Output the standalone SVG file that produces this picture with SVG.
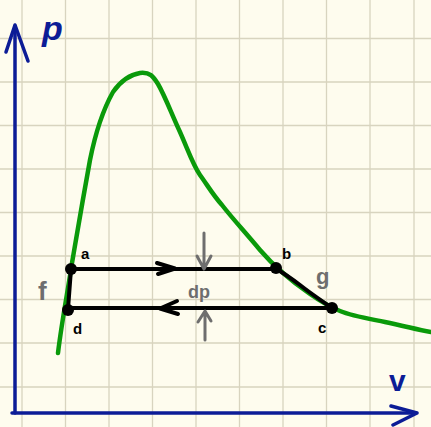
<svg xmlns="http://www.w3.org/2000/svg" width="431" height="427" viewBox="0 0 431 427">
<style>
.grid{stroke:#d8d4bf;stroke-width:1.3}
.axis{stroke:#0c1c96;stroke-width:3.5;fill:none;stroke-linecap:round;stroke-linejoin:round}
.curve{stroke:#0a9a0a;stroke-width:4.5;fill:none;stroke-linecap:round;stroke-linejoin:round}
.cyc{stroke:#000;stroke-width:4;fill:none;stroke-linecap:round;stroke-linejoin:round}
.gr{stroke:#6e6e6e;stroke-width:3;fill:none;stroke-linecap:round;stroke-linejoin:round}
.lbl{font-family:"Liberation Sans",Arial,sans-serif;font-weight:bold;fill:#000;font-size:15px}
.glbl{font-family:"Liberation Sans",Arial,sans-serif;font-weight:bold;fill:#6e6e6e}
.blbl{font-family:"Liberation Sans",Arial,sans-serif;font-weight:bold;fill:#0c1c96}
</style>
<rect width="431" height="427" fill="#fefcee"/>
<g id="grid">
<path class="grid" d="M22 0V427M65.5 0V427M109 0V427M152.5 0V427M196 0V427M239.5 0V427M283 0V427M326.5 0V427M370 0V427M414 0V427"/>
<path class="grid" d="M0 38.5H431M0 82H431M0 125.5H431M0 169H431M0 212.5H431M0 256H431M0 299.5H431M0 343H431M0 387H431"/>
</g>
<g id="axes">
<path class="axis" d="M15 413V26"/>
<path class="axis" d="M6 52L15 25L28 61"/>
<path class="axis" d="M12 413H416"/>
<path class="axis" d="M391 406L417 413L393 425"/>
<text class="blbl" x="42" y="40" font-size="34" font-style="italic">p</text>
<text class="blbl" x="389" y="391" font-size="30">v</text>
</g>
<g id="curve">
<path class="curve" d="M58 353C62 320 68 290 72 263C76 240 80 215 90 160C96 130 104 108 113 92C120 82 128 75 140 73C150 72 153 76 158 84C165 96 172 115 180 132C188 150 193 165 200 175C208 186 213 195 222 205C232 218 245 232 260 250C272 264 290 280 310 294C320 301 328 306 340 311C352 316 365 318 385 322C405 326 418 330 431 332"/>
</g>
<g id="connectors">
<path class="cyc" d="M70 269H275"/>
<path class="cyc" d="M157 263L175 268.5L158 274"/>
<path class="cyc" d="M275 268C285 274 292 279 300 285C310 293 322 301 332 308"/>
<path class="cyc" d="M332 308H68"/>
<path class="cyc" d="M177 301L160 308.5L178 314"/>
<path class="cyc" d="M68 309L71 269"/>
<path class="gr" d="M204 233V268M197 256L204 269L211 256"/>
<path class="gr" d="M205 340V313M198 322L205 311L211 321"/>
</g>
<g id="node-a"><circle cx="71" cy="269" r="6"/><text class="lbl" x="81" y="259">a</text></g>
<g id="node-b"><circle cx="276" cy="268" r="6"/><text class="lbl" x="282" y="259">b</text></g>
<g id="node-c"><circle cx="332" cy="308" r="6"/><text class="lbl" x="318" y="333">c</text></g>
<g id="node-d"><circle cx="68" cy="310" r="6"/><text class="lbl" x="73" y="334">d</text></g>
<text class="glbl" x="38" y="300" font-size="26">f</text>
<text class="glbl" x="316" y="284" font-size="22">g</text>
<text class="glbl" x="188" y="298" font-size="18">dp</text>
</svg>
